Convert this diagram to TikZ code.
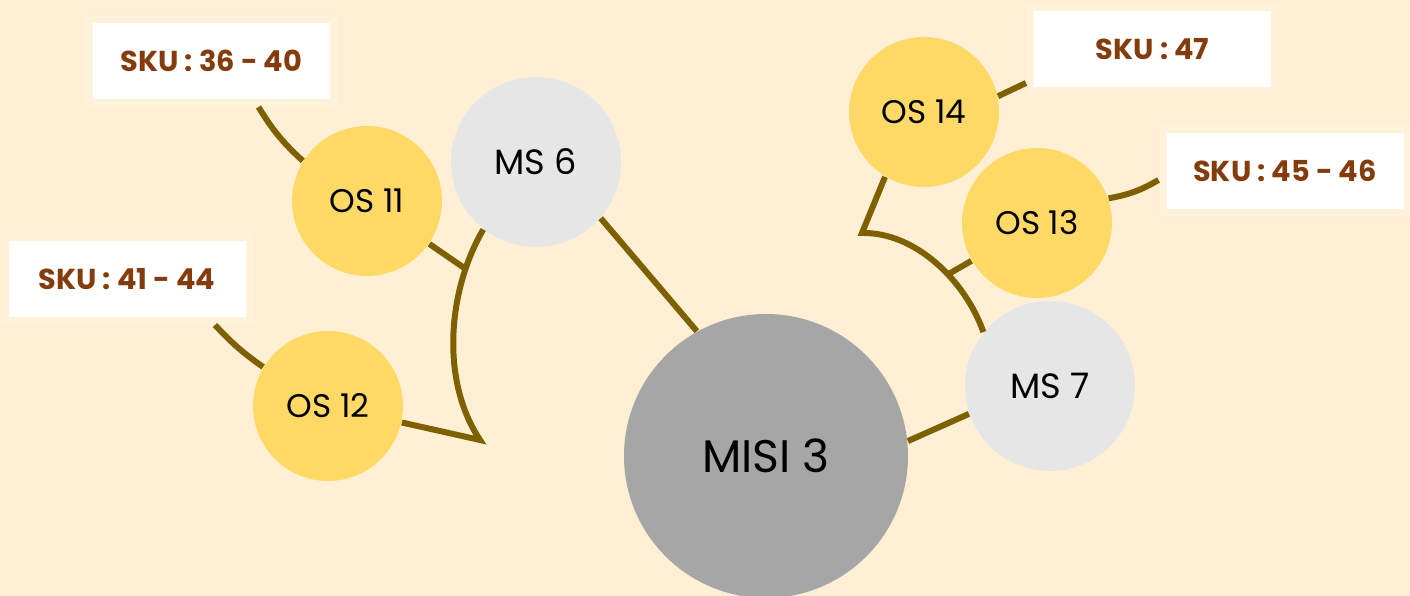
\documentclass[tikz,border=0pt]{standalone}
\usepackage{fontspec}
\setmainfont{Poppins}
\usepackage{tikz}
\usetikzlibrary{calc}

\definecolor{bgcream}{HTML}{FFF0D5}
\definecolor{boxrim}{HTML}{FFF2DA}
\definecolor{osgold}{HTML}{FFD966}
\definecolor{msgrey}{HTML}{E6E6E6}
\definecolor{misigrey}{HTML}{A6A6A6}
\definecolor{linkbrown}{HTML}{7F6000}
\definecolor{skubrown}{HTML}{843C0C}

\begin{document}
\begin{tikzpicture}[misi/.style={circle,fill=misigrey,minimum size=2.84cm,font=\fontsize{13}{16}\selectfont},
			ms/.style={circle,fill=msgrey,minimum size=1.70cm,font=\fontsize{10}{12}\selectfont},
			os/.style={circle,fill=osgold,minimum size=1.50cm,font=\fontsize{9.3}{11}\selectfont},
			sku/.style={rectangle,fill=white,draw=boxrim,line width=0.08cm,
				minimum width=2.45cm,minimum height=0.84cm,text=skubrown,
				font=\bfseries\fontsize{8.2}{10}\selectfont},
			link/.style={draw=linkbrown,line width=0.06cm}]
	\fill[bgcream] (0,0) rectangle (14.10,-5.96);
	\useasboundingbox (0,0) rectangle (14.10,-5.96);

	% circles
	\node[misi] (misi) at (7.66,-4.56) {MISI 3};
	\node[ms] (ms6) at (5.36,-1.62) {MS 6};
	\node[ms] (ms7) at (10.50,-3.86) {MS 7};
	\node[os] (os11) at (3.67,-2.01) {OS 11};
	\node[os] (os12) at (3.28,-4.06) {OS 12};
	\node[os] (os14) at (9.24,-1.12) {OS 14};
	\node[os] (os13) at (10.37,-2.23) {OS 13};

	% sku boxes
	\node[sku] (sku1) at (2.115,-0.61) {SKU : 36 - 40};
	\node[sku] (sku2) at (1.27,-2.79) {SKU : 41 - 44};
	\node[sku] (sku3) at (11.525,-0.49) {SKU : 47};
	\node[sku] (sku4) at (12.85,-1.71) {SKU : 45 - 46};

	% links
	\draw[link] (misi.119) -- (ms6.-41);
	\draw[link] (misi.6) -- (ms7.199);

	\coordinate (tip6) at (4.80,-4.40);
	\draw[link] (os12) -- (tip6) .. controls (4.40,-3.80) and (4.48,-2.90) .. coordinate[pos=0.8] (fork6) (ms6.232);
	\draw[link] (fork6) -- (os11);

	\coordinate (tip7) at (8.62,-2.33);
	\draw[link] (os14.239) -- (tip7) .. controls (9.15,-2.32) and (9.65,-2.80) .. coordinate[pos=0.6] (fork7) (ms7.141);
	\draw[link] (fork7) -- (os13);

	\draw[link] (os11.148) to[bend left=8] ([xshift=0.47cm]sku1.south);
	\draw[link] (os12.149) to[bend left=6] ([xshift=0.88cm]sku2.south);
	\draw[link] (os14.12) -- ([yshift=-0.34cm]sku3.west);
	\draw[link] (os13.19) to[bend right=10] ([yshift=-0.09cm]sku4.west);
\end{tikzpicture}
\end{document}
